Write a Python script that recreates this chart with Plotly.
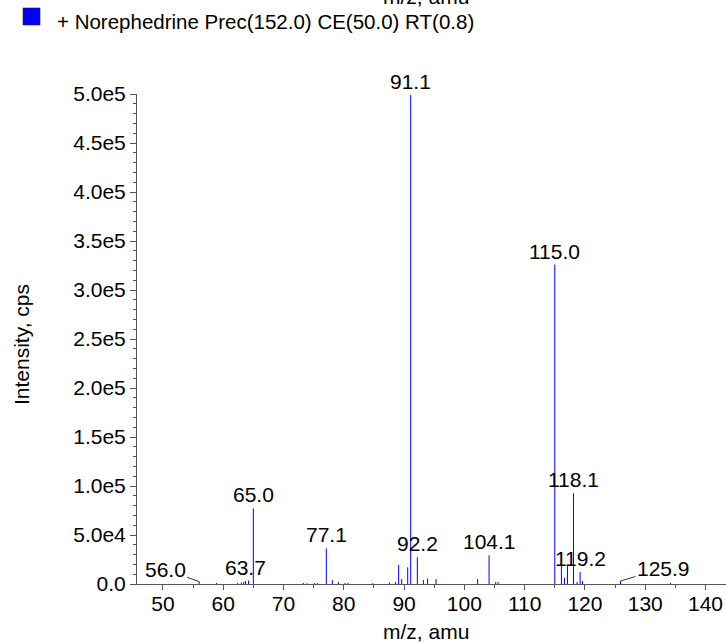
import plotly.graph_objects as go

# ---- data ----
mz = [56.0, 58.9, 62.4, 63.0, 63.4, 63.7, 64.2, 65.0, 73.3, 73.9, 75.1, 75.6,
      77.1, 78.1, 79.1, 80.2, 80.7, 84.8, 87.6, 88.6, 89.1, 89.6, 90.6, 91.1,
      92.2, 93.2, 93.9, 95.3, 102.2, 104.1, 105.2, 105.6, 115.0, 116.1, 116.6,
      117.1, 118.1, 118.7, 119.2, 119.6, 125.9, 134.2]
intensity = [2.5e3, 1.0e3, 1.0e3, 1.5e3, 2.0e3, 3.0e3, 3.5e3, 77.2e3, 1.0e3, 0.8e3, 1.0e3, 1.0e3,
             36.4e3, 4.0e3, 2.0e3, 1.0e3, 1.0e3, 0.8e3, 1.5e3, 2.0e3, 19.4e3, 5.0e3, 17.0e3, 499e3,
             27.2e3, 4.0e3, 5.6e3, 5.0e3, 5.0e3, 29.3e3, 2.0e3, 2.0e3, 326e3, 21.4e3, 6.5e3,
             18.4e3, 92.6e3, 2.0e3, 12.2e3, 3.0e3, 3.0e3, 1.0e3]
peak_labels = ["56.0", "63.7", "65.0", "77.1", "91.1", "92.2", "104.1",
               "115.0", "118.1", "119.2", "125.9"]
y_tickvals = [0, 5e4, 1e5, 1.5e5, 2e5, 2.5e5, 3e5, 3.5e5, 4e5, 4.5e5, 5e5]
y_ticktext = ["0.0", "5.0e4", "1.0e5", "1.5e5", "2.0e5", "2.5e5", "3.0e5",
              "3.5e5", "4.0e5", "4.5e5", "5.0e5"]
x_tickvals = [50, 60, 70, 80, 90, 100, 110, 120, 130, 140]
legend_text = "+ Norephedrine Prec(152.0) CE(50.0) RT(0.8)"
x_title = "m/z, amu"
y_title = "Intensity, cps"

FONT = "Liberation Sans, Arial, Helvetica, sans-serif"
FS = 21
BLUE = "#0000ff"
AXC = "#555555"
BLACK = "#000000"

# stick spectrum
xs, ys = [], []
for m, v in zip(mz, intensity):
    xs += [m, m, None]
    ys += [0, v, None]

fig = go.Figure()
fig.add_trace(go.Scatter(x=xs, y=ys, mode="lines",
                         line=dict(color=BLUE, width=1), hoverinfo="skip",
                         showlegend=False))

XMIN, XMAX = 45.7, 143.4
YMAX = 5.0e5
L, T, B = 137, 94, 58
PW, PH = 726 - L, 642 - T - B


def px(xp):
    return (xp - L) / PW


def py(yp):
    return (642 - B - yp) / PH


# peak labels
leader = {"56.0": (-34, -12), "125.9": (43, -13)}
ann = []
for lab in peak_labels:
    xv = float(lab)
    i = min(range(len(mz)), key=lambda k: abs(mz[k] - xv))
    yv = intensity[i]
    if lab in leader:
        ax, ay = leader[lab]
        ann.append(dict(x=mz[i], y=yv, xref="x", yref="y", text=lab,
                        showarrow=True, arrowhead=0, arrowwidth=0.8,
                        arrowcolor=BLACK, ax=ax, ay=ay, standoff=0,
                        font=dict(family=FONT, size=FS, color=BLACK)))
    else:
        ann.append(dict(x=mz[i], y=yv, xref="x", yref="y", text=lab,
                        showarrow=False, yanchor="bottom", xanchor="center",
                        font=dict(family=FONT, size=FS, color=BLACK)))

# legend text, cut-off top title, axis titles
ann.append(dict(x=px(55), y=py(21), xref="paper", yref="paper", text=legend_text,
                showarrow=False, xanchor="left", yanchor="middle",
                font=dict(family=FONT, size=20.5, color=BLACK)))
ann.append(dict(x=px(426), y=py(10), xref="paper", yref="paper", text=x_title,
                showarrow=False, xanchor="center", yanchor="bottom",
                font=dict(family=FONT, size=FS, color=BLACK)))
ann.append(dict(x=px(426), y=py(631), xref="paper", yref="paper", text=x_title,
                showarrow=False, xanchor="center", yanchor="middle",
                font=dict(family=FONT, size=FS, color=BLACK)))
ann.append(dict(x=px(21), y=py(345), xref="paper", yref="paper", text=y_title,
                showarrow=False, xanchor="center", yanchor="middle", textangle=-90,
                font=dict(family=FONT, size=FS, color=BLACK)))

shapes = [
    # legend swatch
    dict(type="rect", xref="paper", yref="paper", x0=px(23), x1=px(40),
         y0=py(25), y1=py(8), fillcolor=BLUE, line=dict(color="#222222", width=0.6)),
    # zero marker triangle on the y axis
    dict(type="path", xref="x", yref="y", xsizemode="pixel", ysizemode="pixel",
         xanchor=XMIN, yanchor=0, path="M -10,12 L 0,3 L -10,-6 Z",
         fillcolor=BLUE, line=dict(color=BLUE, width=0)),
]

fig.update_layout(
    width=726, height=642,
    margin=dict(l=L, r=0, t=T, b=B),
    paper_bgcolor="white", plot_bgcolor="white",
    font=dict(family=FONT, size=FS, color=BLACK),
    annotations=ann, shapes=shapes, showlegend=False,
    xaxis=dict(range=[XMIN, XMAX], showgrid=False, zeroline=False,
               showline=True, linecolor=AXC, linewidth=1,
               tickmode="array", tickvals=x_tickvals,
               ticks="outside", ticklen=5, tickcolor=AXC, tickwidth=1,
               ticklabelstandoff=-4,
               minor=dict(dtick=5, tick0=0, ticks="outside", ticklen=3,
                          tickcolor=AXC, tickwidth=1, showgrid=False),
               tickfont=dict(family=FONT, size=FS, color=BLACK)),
    yaxis=dict(range=[0, YMAX], showgrid=False, zeroline=False,
               showline=True, linecolor=AXC, linewidth=1,
               tickmode="array", tickvals=y_tickvals, ticktext=y_ticktext,
               ticks="outside", ticklen=6, tickcolor=AXC, tickwidth=1,
               minor=dict(dtick=1e4, tick0=0, ticks="outside", ticklen=3,
                          tickcolor=AXC, tickwidth=1, showgrid=False),
               tickfont=dict(family=FONT, size=FS, color=BLACK)),
)

fig.write_html("out.html", config={"displayModeBar": False},
               post_script="document.body.style.margin='0';")
